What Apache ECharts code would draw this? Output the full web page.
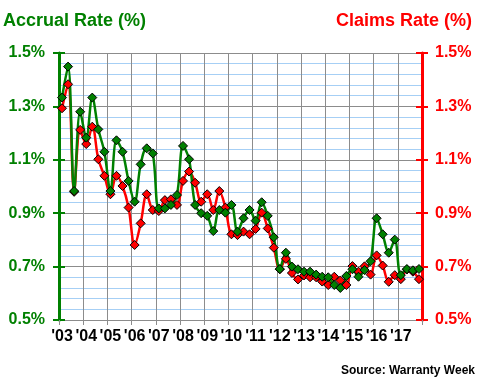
<!DOCTYPE html>
<html>
<head>
<meta charset="utf-8">
<script src="https://cdn.jsdelivr.net/npm/echarts@6/dist/echarts.min.js"></script>
<style>html,body{margin:0;padding:0;background:#fff;}#c{width:480px;height:380px;}</style>
</head>
<body>
<div id="c"></div>
<script>
const years = ['03','04','05','06','07','08','09','10','11','12','13','14','15','16','17'];
const quarters = ['Q1','Q2','Q3','Q4'];
const yTickValues = [0.5, 0.7, 0.9, 1.1, 1.3, 1.5];
const accrualRate = [
  1.333, 1.449, 0.983, 1.280, 1.183, 1.333, 1.214, 1.130, 0.983, 1.173,
  1.130, 1.021, 0.943, 1.083, 1.143, 1.124, 0.918, 0.918, 0.931, 0.968,
  1.152, 1.102, 0.931, 0.900, 0.890, 0.833, 0.912, 0.902, 0.931, 0.831,
  0.881, 0.912, 0.872, 0.941, 0.890, 0.810, 0.691, 0.752, 0.700, 0.690,
  0.681, 0.681, 0.670, 0.662, 0.660, 0.631, 0.620, 0.665, 0.690, 0.662,
  0.687, 0.720, 0.881, 0.821, 0.752, 0.801, 0.668, 0.691, 0.686, 0.691
];
const claimsRate = [
  1.293, 1.383, 0.980, 1.212, 1.159, 1.224, 1.102, 1.040, 0.971, 1.040,
  1.002, 0.921, 0.781, 0.862, 0.971, 0.912, 0.908, 0.949, 0.952, 0.931,
  1.021, 1.056, 1.014, 0.943, 0.971, 0.912, 0.983, 0.921, 0.821, 0.818,
  0.831, 0.821, 0.841, 0.902, 0.843, 0.771, 0.690, 0.729, 0.676, 0.652,
  0.667, 0.660, 0.660, 0.644, 0.631, 0.662, 0.648, 0.631, 0.702, 0.681,
  0.701, 0.670, 0.742, 0.704, 0.643, 0.668, 0.653, 0.689, 0.681, 0.653
];

const categories = [];
years.forEach(y => quarters.forEach(q => categories.push("'" + y + ' ' + q)));

const GREEN = '#008000', RED = '#FF0000', GRAY = '#8c8c8c', BLUE = '#a6cff5';
const FONT = '"Liberation Sans", Arial, sans-serif';
const T = 'rgba(0,0,0,0)';
const splitColors = [GRAY, T, BLUE, T, BLUE, T, BLUE, T, BLUE, T];

function pctLabel(v) {
  const k = (v - 0.5) / 0.2;
  return Math.abs(k - Math.round(k)) < 1e-6 ? v.toFixed(1) + '%' : '';
}

function tickAxis(pos, inside, color) {
  return {
    type: 'value', position: pos, min: 0.5, max: 1.5, interval: 0.02,
    axisLine: { show: false },
    axisLabel: { show: false },
    splitLine: { show: false },
    axisTick: { show: true, inside: inside, length: 6, customValues: yTickValues,
      lineStyle: { color: color, width: 2 } }
  };
}

const chart = echarts.init(document.getElementById('c'), null, { renderer: 'canvas' });
chart.setOption({
  animation: false,
  backgroundColor: '#fff',
  textStyle: { fontFamily: FONT },
  title: [
    { text: 'Accrual Rate (%)', left: 3, top: 12, padding: 0,
      textStyle: { color: GREEN, fontSize: 18, fontWeight: 'bold', fontFamily: FONT } },
    { text: 'Claims Rate (%)', right: 8, top: 12, padding: 0,
      textStyle: { color: RED, fontSize: 18, fontWeight: 'bold', fontFamily: FONT } },
    { text: 'Source: Warranty Week', right: 5, top: 365, padding: 0,
      textStyle: { color: '#000', fontSize: 12, fontWeight: 'bold', fontFamily: FONT } }
  ],
  grid: { left: 59, right: 58, top: 53, bottom: 60, containLabel: false },
  xAxis: {
    type: 'category', data: categories, boundaryGap: true,
    axisLine: { show: true, lineStyle: { color: GRAY, width: 1 } },
    axisTick: { show: true, interval: 3, length: 5, lineStyle: { color: GRAY, width: 1 } },
    axisLabel: { interval: 3, color: '#000', fontSize: 16, fontWeight: 'bold', fontFamily: FONT,
      margin: 9, formatter: v => v.split(' ')[0] },
    splitLine: { show: true, interval: 3, lineStyle: { color: GRAY, width: 1 } }
  },
  yAxis: [
    { type: 'value', position: 'left', min: 0.5, max: 1.5, interval: 0.02,
      axisLine: { show: true, lineStyle: { color: GREEN, width: 3 } },
      axisTick: { show: false },
      axisLabel: { color: GREEN, fontSize: 16, fontWeight: 'bold', fontFamily: FONT, margin: 14, formatter: pctLabel },
      splitLine: { show: true, lineStyle: { color: splitColors, width: 1 } } },
    { type: 'value', position: 'right', min: 0.5, max: 1.5, interval: 0.02,
      axisLine: { show: true, lineStyle: { color: RED, width: 3 } },
      axisTick: { show: false },
      axisLabel: { color: RED, fontSize: 16, fontWeight: 'bold', fontFamily: FONT, margin: 13, formatter: pctLabel },
      splitLine: { show: false } },
    tickAxis('left', false, GREEN),
    tickAxis('left', true, GREEN),
    tickAxis('right', false, RED),
    tickAxis('right', true, RED)
  ],
  series: [
    { name: 'Claims Rate', type: 'line', yAxisIndex: 1, data: claimsRate, smooth: 0.35,
      symbol: 'diamond', symbolSize: 9, showAllSymbol: true,
      lineStyle: { color: RED, width: 2.5 },
      itemStyle: { color: RED, borderColor: '#000', borderWidth: 1 } },
    { name: 'Accrual Rate', type: 'line', yAxisIndex: 0, data: accrualRate, smooth: 0.35,
      symbol: 'diamond', symbolSize: 9, showAllSymbol: true,
      lineStyle: { color: GREEN, width: 2.5 },
      itemStyle: { color: GREEN, borderColor: '#000', borderWidth: 1 } }
  ]
});
</script>
</body>
</html>
